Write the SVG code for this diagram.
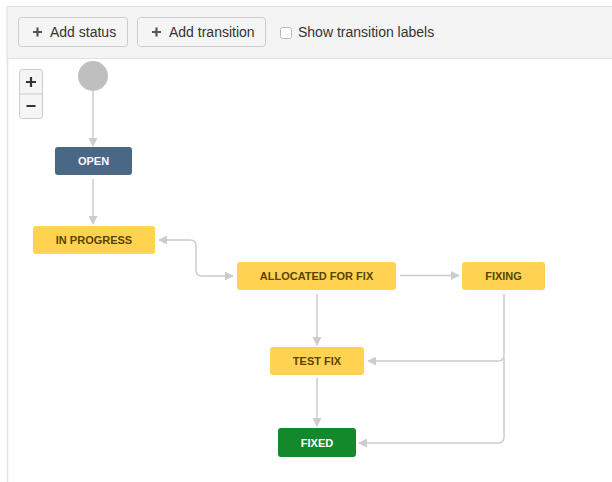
<svg xmlns="http://www.w3.org/2000/svg" width="612" height="482" viewBox="0 0 612 482">
<style>
.tb{font-family:"Liberation Sans",Arial,sans-serif;font-size:14px;fill:#333}
.btn{fill:#f5f5f5;stroke:#ccc;stroke-width:1}
.lbl{font-family:"Liberation Sans",Arial,sans-serif;font-size:11px;font-weight:bold;text-anchor:middle}
.y rect{fill:#ffd351}
.y text{fill:#594300}
.c{fill:none;stroke:#cccccc;stroke-width:1.5}
</style>
<defs>
<marker id="ah" viewBox="0 0 10 10" refX="9" refY="5" markerWidth="9" markerHeight="9" markerUnits="userSpaceOnUse" orient="auto-start-reverse">
<path d="M0,0 L10,5 L0,10 z" fill="#cccccc"/>
</marker>
</defs>
<rect x="0" y="0" width="612" height="482" fill="#fff"/>
<!-- toolbar -->
<rect x="7" y="6.5" width="606" height="52" fill="#f4f4f4" stroke="#e0e0e0" stroke-width="1"/>
<line x1="7.5" y1="58" x2="7.5" y2="482" stroke="#e3e3e3" stroke-width="1.5"/>
<g id="btn-add-status">
<rect class="btn" x="18.5" y="17.5" width="109" height="29" rx="3"/>
<path d="M33 32 H42 M37.5 27.5 V36.5" stroke="#555" stroke-width="2.2"/>
<text class="tb" x="50" y="37">Add status</text>
</g>
<g id="btn-add-transition">
<rect class="btn" x="137.5" y="17.5" width="128" height="29" rx="3"/>
<path d="M152 32 H161 M156.5 27.5 V36.5" stroke="#555" stroke-width="2.2"/>
<text class="tb" x="169" y="37">Add transition</text>
</g>
<g id="chk-labels">
<rect x="280.5" y="27.5" width="11" height="11" rx="2" fill="#fff" stroke="#bbb"/>
<text class="tb" x="298" y="37">Show transition labels</text>
</g>
<g id="zoom-ctrl">
<rect x="19.5" y="69.5" width="23" height="49" rx="3" fill="#f5f5f5" stroke="#ccc"/>
<line x1="19.5" y1="94" x2="42.5" y2="94" stroke="#ccc"/>
<path d="M26 82 H36 M31 77 V87" stroke="#333" stroke-width="2.2"/>
<path d="M26.5 106 H35.5" stroke="#333" stroke-width="2"/>
</g>
<!-- connectors -->
<g id="connectors">
<line class="c" x1="93" y1="90" x2="93" y2="146" marker-end="url(#ah)"/>
<line class="c" x1="93" y1="179" x2="93" y2="224" marker-end="url(#ah)"/>
<path class="c" d="M159 240 H190 Q196 240 196 246 V270 Q196 276 202 276 H233" marker-start="url(#ah)" marker-end="url(#ah)"/>
<line class="c" x1="400" y1="275.5" x2="459" y2="275.5" marker-end="url(#ah)"/>
<line class="c" x1="317" y1="294" x2="317" y2="345" marker-end="url(#ah)"/>
<path class="c" d="M504 294 V355 Q504 361 498 361 H368" marker-end="url(#ah)"/>
<path class="c" d="M504 358 V437 Q504 443 498 443 H359" marker-end="url(#ah)"/>
<line class="c" x1="317" y1="378" x2="317" y2="426" marker-end="url(#ah)"/>
</g>
<!-- nodes -->
<g id="start"><ellipse cx="93" cy="76" rx="15" ry="15" fill="#bfbfbf"/></g>
<g id="open">
<rect x="55" y="147" width="77" height="28" rx="3" fill="#4a6785"/>
<text class="lbl" x="93.5" y="165" fill="#fff">OPEN</text>
</g>
<g id="in-progress" class="y">
<rect x="33" y="226" width="122" height="28" rx="3"/>
<text class="lbl" x="94" y="244">IN PROGRESS</text>
</g>
<g id="allocated" class="y">
<rect x="237" y="262" width="159" height="28" rx="3"/>
<text class="lbl" x="316.5" y="280">ALLOCATED FOR FIX</text>
</g>
<g id="fixing" class="y">
<rect x="462" y="262" width="83" height="28" rx="3"/>
<text class="lbl" x="503.5" y="280">FIXING</text>
</g>
<g id="test-fix" class="y">
<rect x="270" y="347" width="94" height="28" rx="3"/>
<text class="lbl" x="317" y="365">TEST FIX</text>
</g>
<g id="fixed">
<rect x="278" y="428" width="78" height="29" rx="3" fill="#14892c"/>
<text class="lbl" x="317" y="446.5" fill="#fff">FIXED</text>
</g>
</svg>
